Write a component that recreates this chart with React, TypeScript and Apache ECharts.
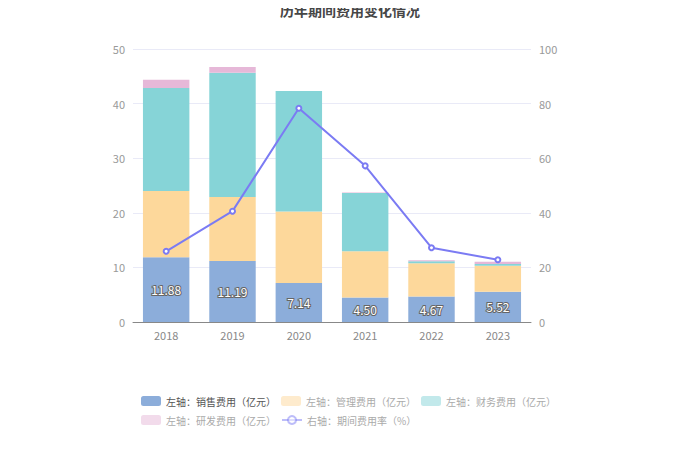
import React, { useEffect, useRef } from "react";
import * as echarts from "echarts";

const years = ["2018", "2019", "2020", "2021", "2022", "2023"];
const salesCost = [11.88, 11.19, 7.14, 4.5, 4.67, 5.52];
const mgmtCost = [12.12, 11.7, 13.11, 8.45, 6.08, 4.79];
const financeCost = [18.88, 22.75, 22.08, 10.68, 0.37, 0.31];
const rdCost = [1.47, 1.05, 0.0, 0.1, 0.2, 0.42];
const expenseRate = [25.9, 40.6, 78.3, 57.2, 27.2, 22.8];

const names = [
  "左轴：销售费用（亿元）",
  "左轴：管理费用（亿元）",
  "左轴：财务费用（亿元）",
  "左轴：研发费用（亿元）",
  "右轴：期间费用率（%）",
];
const colors = ["#8CADDA", "#FDD89B", "#86D4D7", "#E6B8D8", "#7B7BF3"];

const FONT = "'Noto Sans CJK SC', 'Noto Sans', sans-serif";

export default function App() {
  const ref = useRef<HTMLDivElement>(null);
  useEffect(() => {
    if (!ref.current) return;
    const chart = echarts.init(ref.current, undefined, { renderer: "svg" });
    const barSeries = [salesCost, mgmtCost, financeCost, rdCost].map((d, i) => ({
      name: names[i],
      type: "bar",
      stack: "cost",
      yAxisIndex: 0,
      barWidth: "70%",
      data: d,
      itemStyle: { color: colors[i] },
      label:
        i === 0
          ? {
              show: true,
              position: "inside",
              color: "#fff",
              fontSize: 12,
              fontFamily: FONT,
              textBorderColor: "#666",
              textBorderWidth: 2,
              formatter: (p: any) => p.value.toFixed(2),
            }
          : { show: false },
    }));
    const legendItem = (i: number) =>
      i === 0
        ? { name: names[i], textStyle: { color: "#555" } }
        : { name: names[i], itemStyle: { opacity: 0.5 }, lineStyle: { opacity: 0.5 } };
    const legendBase = {
      left: 141,
      itemWidth: 20,
      itemHeight: 10,
      itemGap: 5,
      padding: 0,
      textStyle: { fontSize: 10, color: "#aaa", fontFamily: FONT },
    };
    chart.setOption({
      animation: false,
      textStyle: { fontFamily: FONT },
      title: {
        text: "历年期间费用变化情况",
        left: "center",
        top: 0,
        padding: [3, 5],
        textStyle: { fontSize: 14, fontWeight: "bold", color: "#464646", fontFamily: FONT },
      },
      legend: [
        { ...legendBase, top: 396, data: [0, 1, 2].map(legendItem) },
        { ...legendBase, top: 415, data: [3, 4].map(legendItem) },
      ],
      grid: { left: 133, right: 169, top: 49, bottom: 151 },
      xAxis: {
        type: "category",
        data: years,
        axisLine: { lineStyle: { color: "#888" } },
        axisTick: { alignWithLabel: true, lineStyle: { color: "#888" } },
        axisLabel: { color: "#888", fontSize: 11, margin: 7 },
      },
      yAxis: [
        {
          type: "value",
          min: 0,
          max: 50,
          interval: 10,
          axisLine: { show: false },
          axisTick: { show: false },
          axisLabel: { color: "#999", fontSize: 11, margin: 8 },
          splitLine: { lineStyle: { color: "#E9EAF7" } },
        },
        {
          type: "value",
          min: 0,
          max: 100,
          interval: 20,
          axisLine: { show: false },
          axisTick: { show: false },
          axisLabel: { color: "#999", fontSize: 11, margin: 8 },
          splitLine: { show: false },
        },
      ],
      series: [
        ...barSeries,
        {
          name: names[4],
          type: "line",
          yAxisIndex: 1,
          data: expenseRate,
          symbol: "emptyCircle",
          symbolSize: 5,
          itemStyle: { color: colors[4] },
          lineStyle: { color: colors[4], width: 2 },
          z: 10,
        },
      ],
    });
    return () => chart.dispose();
  }, []);
  return <div ref={ref} style={{ width: 700, height: 473, margin: -8 }} />;
}
